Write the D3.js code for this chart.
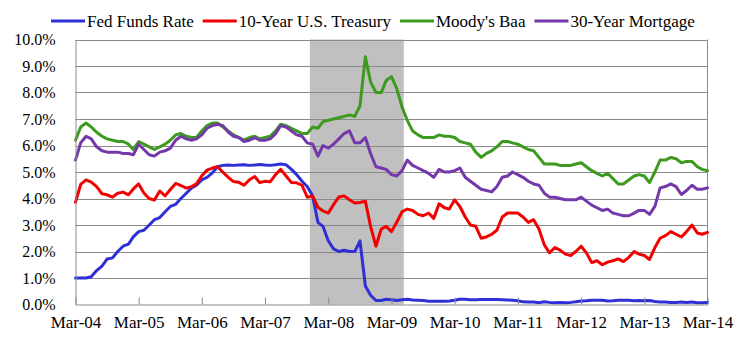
<!DOCTYPE html>
<html>
<head>
<meta charset="utf-8">
<script src="https://cdn.jsdelivr.net/npm/d3@7"></script>
<style>
  html, body { margin: 0; padding: 0; background: #fff; }
  svg { display: block; }
  text { font-family: "Liberation Serif", "Times New Roman", serif; fill: #000; }
</style>
</head>
<body>
<svg id="chart" width="742" height="338"></svg>
<script>
// Month-end observations, Mar 2004 through Mar 2014 (percent)
const firstMonth = new Date(2004, 2, 1);
const monthCount = 121;

const fedFunds = [
  1.00,1.00,1.00,1.05,1.28,1.45,1.72,1.76,2.00,2.20,
  2.28,2.55,2.75,2.80,3.00,3.20,3.28,3.50,3.70,3.78,4.00,4.20,
  4.40,4.50,4.70,4.80,4.97,5.20,5.25,5.26,5.25,5.26,5.27,5.25,
  5.26,5.28,5.26,5.25,5.27,5.30,5.27,5.10,4.90,4.65,4.45,4.10,
  3.10,2.95,2.40,2.10,2.00,2.05,2.00,2.00,2.40,0.70,0.35,0.15,
  0.15,0.20,0.18,0.15,0.18,0.20,0.17,0.16,0.15,0.12,0.12,0.12,
  0.12,0.13,0.16,0.20,0.20,0.18,0.18,0.19,0.19,0.19,0.19,0.18,
  0.17,0.16,0.14,0.10,0.09,0.09,0.07,0.10,0.08,0.07,0.08,0.07,
  0.08,0.10,0.13,0.14,0.16,0.16,0.16,0.13,0.14,0.16,0.16,0.16,
  0.14,0.15,0.14,0.15,0.11,0.09,0.09,0.08,0.08,0.09,0.08,0.09,
  0.07,0.07,0.08
];

const treasury10 = [
  3.86,4.53,4.70,4.62,4.45,4.18,4.14,4.05,4.20,4.24,
  4.14,4.36,4.55,4.21,4.00,3.94,4.28,4.10,4.34,4.57,4.49,4.39,
  4.45,4.55,4.86,5.07,5.15,5.20,4.99,4.80,4.64,4.61,4.50,4.71,
  4.83,4.60,4.65,4.63,4.90,5.10,4.85,4.60,4.59,4.50,4.05,4.10,
  3.67,3.53,3.45,3.77,4.06,4.10,3.95,3.83,3.85,3.90,2.95,2.20,
  2.85,2.95,2.75,3.10,3.50,3.60,3.55,3.40,3.35,3.45,3.25,3.80,
  3.65,3.60,3.95,3.70,3.30,3.00,2.95,2.50,2.55,2.65,2.80,3.30,
  3.45,3.45,3.45,3.30,3.10,3.20,2.85,2.25,1.95,2.15,2.05,1.90,
  1.85,2.00,2.20,1.95,1.58,1.65,1.50,1.60,1.65,1.72,1.62,1.78,
  2.00,1.90,1.85,1.70,2.15,2.50,2.60,2.75,2.65,2.55,2.75,3.00,
  2.70,2.65,2.72
];

const baa = [
  6.20,6.70,6.85,6.70,6.50,6.35,6.25,6.20,6.15,6.15,
  6.05,5.85,6.15,6.05,5.95,5.85,5.95,6.05,6.20,6.40,6.45,6.35,
  6.30,6.30,6.55,6.75,6.85,6.85,6.70,6.55,6.40,6.30,6.20,6.30,
  6.35,6.25,6.30,6.35,6.55,6.80,6.75,6.65,6.55,6.45,6.45,6.70,
  6.65,6.90,6.95,7.00,7.05,7.10,7.15,7.10,7.50,9.35,8.40,8.00,
  8.00,8.45,8.60,8.15,7.45,6.95,6.55,6.40,6.30,6.30,6.30,6.40,
  6.35,6.35,6.30,6.15,6.10,6.05,5.75,5.55,5.70,5.80,5.95,6.15,
  6.15,6.10,6.05,5.95,5.85,5.80,5.55,5.30,5.30,5.30,5.25,5.25,
  5.25,5.30,5.35,5.20,5.05,4.95,4.85,4.95,4.75,4.55,4.55,4.70,
  4.85,4.90,4.85,4.60,5.00,5.45,5.45,5.55,5.50,5.35,5.40,5.40,
  5.20,5.10,5.05
];

const mortgage30 = [
  5.45,6.10,6.35,6.25,5.95,5.80,5.75,5.75,5.75,5.70,
  5.70,5.65,6.05,5.85,5.65,5.60,5.75,5.80,5.90,6.20,6.35,6.25,
  6.20,6.25,6.40,6.65,6.75,6.80,6.75,6.50,6.35,6.30,6.15,6.20,
  6.30,6.20,6.20,6.25,6.45,6.75,6.70,6.55,6.40,6.35,6.10,6.05,
  5.60,6.00,5.90,6.05,6.25,6.45,6.55,6.10,6.10,6.30,5.70,5.20,
  5.15,5.10,4.90,4.85,5.05,5.45,5.25,5.15,5.05,4.95,4.80,5.10,
  5.00,5.00,5.05,5.15,4.80,4.65,4.50,4.35,4.30,4.25,4.45,4.80,
  4.85,5.00,4.90,4.80,4.65,4.55,4.50,4.20,4.05,4.05,4.00,3.95,
  3.95,3.95,4.05,3.90,3.75,3.65,3.55,3.60,3.45,3.40,3.35,3.35,
  3.45,3.55,3.55,3.40,3.70,4.40,4.45,4.55,4.45,4.15,4.30,4.50,
  4.35,4.35,4.40
];

const seriesNames = ["Fed Funds Rate", "10-Year U.S. Treasury", "Moody's Baa", "30-Year Mortgage"];
const seriesColors = ["#2f2fd6", "#f20000", "#3d9a1e", "#7438aa"];
const seriesValues = [fedFunds, treasury10, baa, mortgage30];

const yTicks = [0, 1, 2, 3, 4, 5, 6, 7, 8, 9, 10];
const xTickLabels = ["Mar-04","Mar-05","Mar-06","Mar-07","Mar-08","Mar-09","Mar-10","Mar-11","Mar-12","Mar-13","Mar-14"];
const recession = [new Date(2007, 11, 15), new Date(2009, 5, 10)];

// month-end dates for each observation
const dates = d3.range(monthCount).map(i => new Date(firstMonth.getFullYear(), firstMonth.getMonth() + i + 1, 0));
const xTickDates = xTickLabels.map((_, i) => new Date(2004 + i, 2, 31));

const svg = d3.select("#chart");
const margin = { left: 75.5, right: 742 - 707.5, top: 39.5, bottom: 338 - 304.5 };
const W = 742, H = 338;

const x = d3.scaleTime()
  .domain([xTickDates[0], xTickDates[xTickDates.length - 1]])
  .range([margin.left, W - margin.right]);
const y = d3.scaleLinear()
  .domain([0, 10])
  .range([H - margin.bottom, margin.top]);

const gridColor = "#8a8a8a";

// recession band
svg.append("rect")
  .attr("x", x(recession[0]))
  .attr("y", y(10))
  .attr("width", x(recession[1]) - x(recession[0]))
  .attr("height", y(0) - y(10))
  .attr("fill", "#c0c0c0");

// horizontal gridlines
svg.append("g")
  .selectAll("line")
  .data(yTicks.filter(d => d > 0))
  .join("line")
  .attr("x1", x.range()[0]).attr("x2", x.range()[1])
  .attr("y1", d => Math.round(y(d)) + 0.5).attr("y2", d => Math.round(y(d)) + 0.5)
  .attr("stroke", gridColor).attr("stroke-width", 1);

// right border
svg.append("line")
  .attr("x1", x.range()[1]).attr("x2", x.range()[1])
  .attr("y1", y(10)).attr("y2", y(0))
  .attr("stroke", gridColor).attr("stroke-width", 1);

// series lines
const line = d3.line()
  .x((d, i) => x(dates[i]))
  .y(d => y(d));

svg.append("g")
  .selectAll("path")
  .data(seriesValues)
  .join("path")
  .attr("d", d => line(d))
  .attr("fill", "none")
  .attr("stroke", (d, i) => seriesColors[i])
  .attr("stroke-width", 3)
  .attr("stroke-linejoin", "round")
  .attr("stroke-linecap", "round");

// y axis
const yAxis = svg.append("g")
  .attr("transform", `translate(${x.range()[0]},0)`)
  .call(d3.axisLeft(y).tickValues(yTicks).tickSize(0).tickPadding(20)
    .tickFormat(d => d3.format(".1f")(d) + "%"));
yAxis.select(".domain").attr("stroke", gridColor);
yAxis.selectAll("text")
  .style("font-family", "'Liberation Serif', serif")
  .style("font-size", "16px")
  .attr("fill", "#000");

// x axis
const xAxis = svg.append("g")
  .attr("transform", `translate(0,${y(0)})`)
  .call(d3.axisBottom(x).tickValues(xTickDates).tickSizeInner(-7).tickSizeOuter(0).tickPadding(11)
    .tickFormat((d, i) => xTickLabels[i]));
xAxis.select(".domain").attr("stroke", gridColor);
xAxis.selectAll(".tick line").attr("stroke", gridColor);
xAxis.selectAll("text")
  .style("font-family", "'Liberation Serif', serif")
  .style("font-size", "17px")
  .attr("fill", "#000");

// legend
const legend = svg.append("g").attr("transform", "translate(51,21)");
let lx = 0;
seriesNames.forEach((name, i) => {
  legend.append("line")
    .attr("x1", lx).attr("x2", lx + 34)
    .attr("y1", 0).attr("y2", 0)
    .attr("stroke", seriesColors[i]).attr("stroke-width", 3);
  const t = legend.append("text")
    .attr("x", lx + 36).attr("y", 0).attr("dy", "0.35em")
    .style("font-size", "17px")
    .text(name);
  lx += 36 + t.node().getComputedTextLength() + 9;
});
</script>
</body>
</html>
